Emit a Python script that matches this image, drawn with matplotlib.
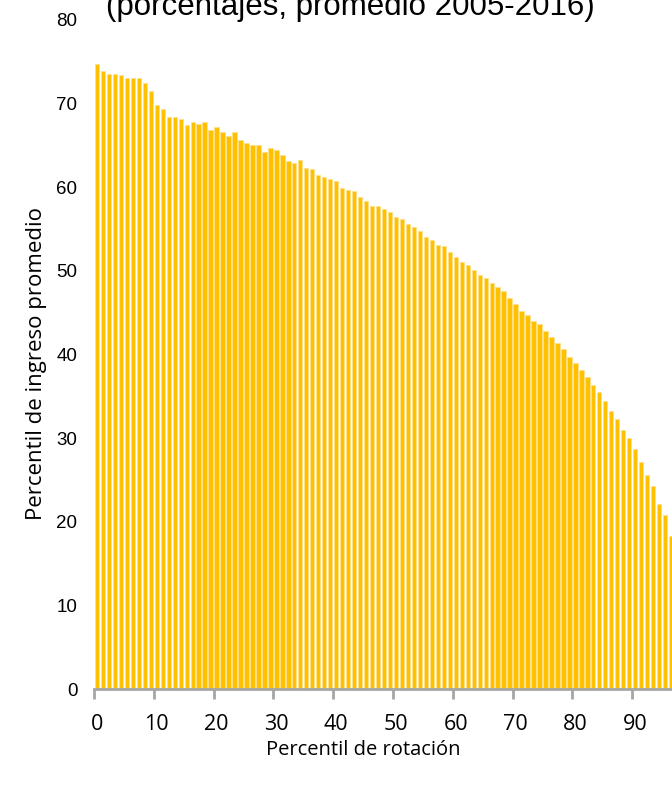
import numpy as np
import matplotlib
matplotlib.use("Agg")
import matplotlib.pyplot as plt

# rotation percentile (category) and average income percentile
percentil_rotacion = list(range(0, 97))
percentil_ingreso = [
    74.7, 73.9, 73.5, 73.5, 73.4, 73.1, 73.1, 73.1, 72.5, 71.5,
    69.8, 69.4, 68.4, 68.4, 68.2, 67.4, 67.8, 67.6, 67.8, 66.8,
    67.2, 66.6, 66.1, 66.6, 65.6, 65.3, 65.1, 65.1, 64.2, 64.7,
    64.4, 63.8, 63.1, 62.9, 63.3, 62.3, 62.2, 61.5, 61.2, 61.0,
    60.7, 59.9, 59.7, 59.6, 58.8, 58.4, 57.8, 57.8, 57.4, 57.1,
    56.5, 56.2, 55.6, 55.2, 54.8, 54.1, 53.7, 53.1, 53.0, 52.3,
    51.7, 51.1, 50.7, 50.1, 49.5, 49.1, 48.6, 48.1, 47.6, 46.8,
    46.0, 45.2, 44.7, 44.0, 43.7, 42.8, 42.1, 41.4, 40.6, 39.7,
    39.0, 38.1, 37.3, 36.4, 35.5, 34.4, 33.3, 32.3, 31.0, 30.0,
    28.7, 27.1, 25.6, 24.3, 22.1, 20.8, 18.3,
]
x_ticks = list(range(0, 100, 10))
y_ticks = list(range(0, 90, 10))

W, H = 672, 788
fig = plt.figure(figsize=(W / 100, H / 100), dpi=100)

# axes run past the right edge of the picture, like the cropped original
ax = fig.add_axes([94 / W, (H - 689) / H, 598 / W, 669 / H])

ax.bar(percentil_rotacion, percentil_ingreso, width=0.72,
       color="#FFC000", edgecolor="#FFE08A", linewidth=0.6)

ax.set_xlim(-0.5, 99.5)
ax.set_ylim(0, 80)

for side in ["top", "right", "left"]:
    ax.spines[side].set_visible(False)
ax.spines["bottom"].set_color("#A6A6A6")
ax.spines["bottom"].set_linewidth(2)

# labels sit on the category, tick marks between categories
ax.set_xticks(x_ticks)
ax.set_xticklabels([str(t) for t in x_ticks], fontfamily="Open Sans", fontsize=15.5)
ax.set_xticks([t - 0.5 for t in x_ticks], minor=True)
ax.tick_params(axis="x", which="major", length=0, pad=18)
ax.tick_params(axis="x", which="minor", length=7, width=2, color="#A6A6A6")

ax.set_yticks(y_ticks)
ax.set_yticklabels([str(t) for t in y_ticks], fontfamily="Liberation Sans", fontsize=13.5)
ax.tick_params(axis="y", length=0, pad=12)

fig.text(37 / W, 1 - 364 / H, "Percentil de ingreso promedio", rotation=90,
         ha="center", va="center", fontfamily="Open Sans", fontsize=16)
fig.text(363 / W, 1 - 750 / H, "Percentil de rotación",
         ha="center", va="center", fontfamily="Open Sans", fontsize=14.5)

# title is cut off at the top of the original
fig.text(350 / W, 1 - 15 / H, "(porcentajes, promedio 2005-2016)",
         ha="center", va="baseline", fontfamily="Liberation Sans", fontsize=22.5)

fig.savefig("out.png", dpi=100)
